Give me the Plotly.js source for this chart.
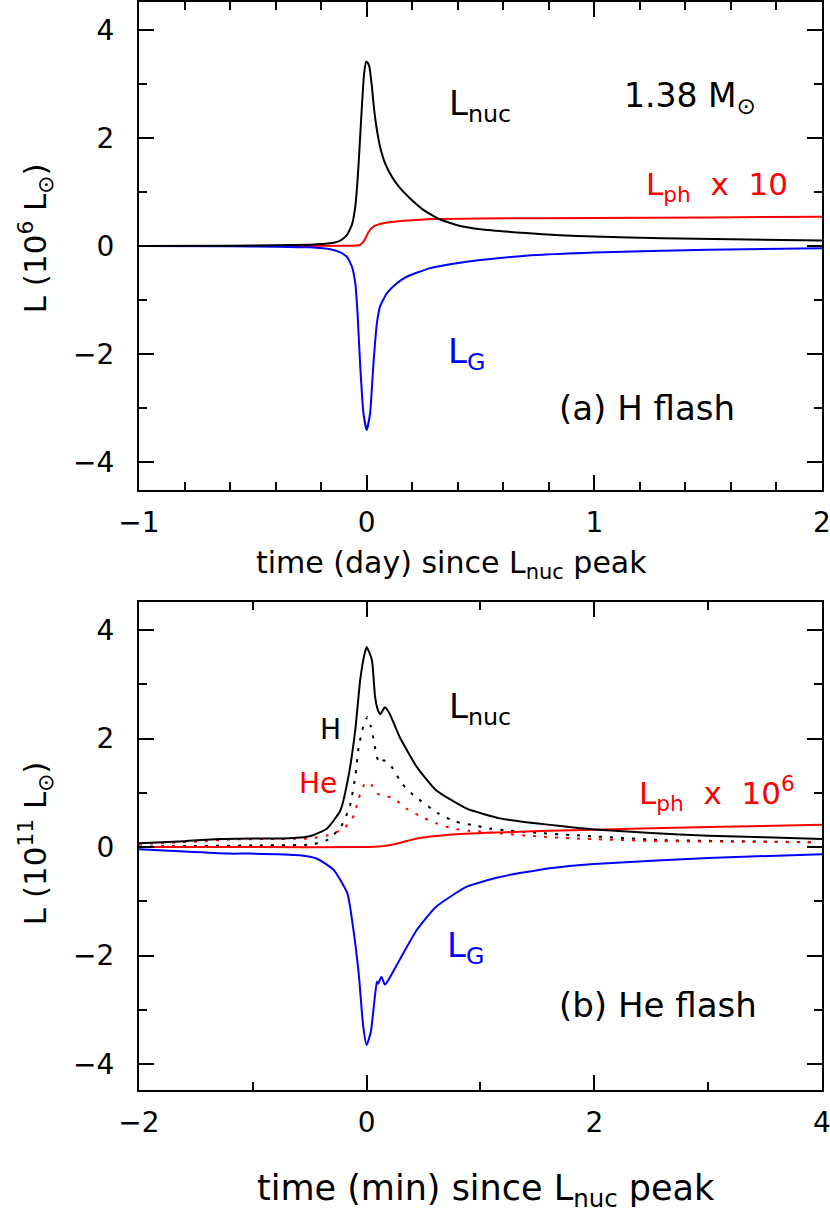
<!DOCTYPE html>
<html>
<head>
<meta charset="utf-8">
<script src="https://cdn.plot.ly/plotly-3.0.1.min.js"></script>
<style>html,body{margin:0;padding:0;background:#fff;}#plot{width:830px;height:1223px;}</style>
</head>
<body>
<div id="plot"></div>
<script>
// ---------- Panel (a): H flash, time in days ----------
const aNucT = [-1, -0.6, -0.4, -0.25, -0.16, -0.116, -0.087, -0.065, -0.05, -0.04, -0.031, -0.021, -0.011, -0.002, 0.004, 0.012, 0.023, 0.033, 0.045, 0.059, 0.081, 0.111, 0.147, 0.191, 0.249, 0.323, 0.411, 0.5, 0.7, 0.85, 1.0, 1.3, 1.6, 2.0];
const aNucL = [0, 0.005, 0.012, 0.025, 0.05, 0.10, 0.20, 0.39, 0.73, 1.22, 1.84, 2.58, 3.20, 3.41, 3.40, 3.32, 2.95, 2.52, 2.15, 1.84, 1.53, 1.28, 1.07, 0.88, 0.67, 0.49, 0.37, 0.31, 0.24, 0.2, 0.175, 0.145, 0.125, 0.10];
const aPhT = [-1, -0.5, -0.1, -0.045, -0.029, -0.014, -0.002, 0.008, 0.03, 0.074, 0.176, 0.308, 0.5, 1.0, 1.5, 2.0];
const aPhL = [0, 0, 0.003, 0.008, 0.02, 0.08, 0.17, 0.26, 0.36, 0.42, 0.47, 0.50, 0.51, 0.52, 0.53, 0.54];
const aGT = [-1, -0.6, -0.4, -0.25, -0.16, -0.12, -0.087, -0.065, -0.05, -0.04, -0.029, -0.014, 0, 0.015, 0.03, 0.045, 0.059, 0.088, 0.133, 0.176, 0.279, 0.396, 0.5, 0.7, 1.0, 1.5, 2.0];
const aGL = [0, -0.005, -0.012, -0.025, -0.06, -0.11, -0.20, -0.38, -0.69, -1.25, -2.17, -3.10, -3.41, -3.10, -2.17, -1.43, -1.12, -0.88, -0.69, -0.57, -0.41, -0.32, -0.26, -0.18, -0.12, -0.07, -0.04];

// ---------- Panel (b): He flash, time in minutes ----------
const bNucT = [-2, -1.6, -1.3, -1.0, -0.73, -0.5, -0.35, -0.23, -0.16, -0.10, -0.057, -0.02, 0.0, 0.046, 0.074, 0.10, 0.12, 0.16, 0.20, 0.29, 0.44, 0.61, 0.88, 1.17, 1.4, 1.61, 1.8, 2.0, 2.5, 3.0, 3.5, 4.0];
const bNucL = [0.07, 0.11, 0.15, 0.16, 0.16, 0.2, 0.34, 0.68, 1.30, 2.16, 3.08, 3.55, 3.69, 3.45, 2.77, 2.52, 2.45, 2.58, 2.47, 2.03, 1.48, 1.05, 0.71, 0.53, 0.46, 0.41, 0.365, 0.325, 0.26, 0.21, 0.18, 0.15];
const bHT = [-2, -1.5, -1.0, -0.48, -0.34, -0.23, -0.15, -0.10, -0.07, -0.03, 0.007, 0.037, 0.068, 0.09, 0.12, 0.15, 0.22, 0.31, 0.41, 0.63, 0.78, 0.92, 1.09, 1.22, 1.38, 1.52, 1.82, 2.58, 3.2, 3.92];
const bHL = [0.01, 0.02, 0.03, 0.05, 0.14, 0.36, 0.74, 1.3, 1.85, 2.22, 2.40, 2.22, 1.91, 1.66, 1.54, 1.60, 1.48, 1.17, 0.96, 0.62, 0.47, 0.41, 0.34, 0.31, 0.28, 0.26, 0.22, 0.13, 0.11, 0.09];
const bHeT = [-2, -1.5, -1.2, -0.8, -0.5, -0.34, -0.20, -0.11, -0.07, -0.01, 0.046, 0.09, 0.13, 0.235, 0.35, 0.48, 0.61, 0.76, 0.90, 1.19, 1.49, 1.82, 2.58, 3.2, 3.92];
const bHeL = [0.06, 0.1, 0.14, 0.15, 0.16, 0.22, 0.34, 0.59, 0.90, 1.19, 1.14, 0.99, 0.96, 0.90, 0.71, 0.56, 0.44, 0.34, 0.30, 0.25, 0.2, 0.16, 0.11, 0.1, 0.09];
const bPhT = [-2, -1, 0, 0.06, 0.15, 0.24, 0.44, 0.73, 1.17, 1.61, 2.0, 3.0, 4.0];
const bPhL = [0, 0, 0, 0.005, 0.02, 0.05, 0.16, 0.23, 0.27, 0.30, 0.32, 0.37, 0.41];
const bGT = [-2, -1.6, -1.2, -1.02, -0.59, -0.44, -0.29, -0.17, -0.12, -0.07, -0.03, 0.0, 0.037, 0.066, 0.09, 0.10, 0.13, 0.16, 0.20, 0.29, 0.44, 0.61, 0.88, 1.17, 1.61, 2.0, 3.0, 4.0];
const bGL = [-0.04, -0.08, -0.12, -0.12, -0.15, -0.21, -0.42, -0.85, -1.47, -2.33, -3.31, -3.65, -3.40, -2.88, -2.48, -2.52, -2.39, -2.54, -2.42, -2.08, -1.53, -1.10, -0.73, -0.55, -0.39, -0.31, -0.2, -0.13];

const FONT = "DejaVu Sans, Liberation Sans, sans-serif";
const BLACK = "#000000", RED = "#ff0000", BLUE = "#0000ff";
const SP = "\u00a0";

function line(x, y, color, xa, ya, dash) {
  return {x: x, y: y, xaxis: xa, yaxis: ya, type: "scatter", mode: "lines",
    line: {color: color, width: 2, dash: dash || "solid", shape: "spline", smoothing: 0.5},
    hoverinfo: "skip", showlegend: false};
}

const traces = [
  line(aPhT, aPhL, RED, "x", "y"),
  line(aGT, aGL, BLUE, "x", "y"),
  line(aNucT, aNucL, BLACK, "x", "y"),
  line(bHT, bHL, BLACK, "x2", "y2", "3px,8px"),
  line(bHeT, bHeL, RED, "x2", "y2", "3px,8px"),
  line(bPhT, bPhL, RED, "x2", "y2"),
  line(bGT, bGL, BLUE, "x2", "y2"),
  line(bNucT, bNucL, BLACK, "x2", "y2")
];

function xax(range, dtick, minorDtick, anchor) {
  return {range: range, dtick: dtick, tick0: 0, anchor: anchor,
    ticks: "inside", ticklen: 15, tickwidth: 2, tickcolor: BLACK,
    minor: {dtick: minorDtick, tick0: 0, ticks: "inside", ticklen: 8, tickwidth: 2, tickcolor: BLACK},
    mirror: "allticks", showline: true, linewidth: 2, linecolor: BLACK,
    showgrid: false, zeroline: false, tickfont: {family: FONT, size: 28, color: BLACK},
    ticklabelstandoff: 6, ticklabeloverflow: "allow", fixedrange: true};
}
function yax(range, domain, anchor) {
  return {range: range, domain: domain, dtick: 2, tick0: 0, anchor: anchor,
    ticks: "inside", ticklen: 15, tickwidth: 2, tickcolor: BLACK,
    minor: {dtick: 1, tick0: 0, ticks: "inside", ticklen: 8, tickwidth: 2, tickcolor: BLACK},
    mirror: "allticks", showline: true, linewidth: 2, linecolor: BLACK,
    showgrid: false, zeroline: false, tickfont: {family: FONT, size: 28, color: BLACK},
    ticklabelstandoff: 17, ticklabeloverflow: "allow", fixedrange: true};
}

function lab(text, x, y, xr, yr, color, size) {
  return {text: text, x: x, y: y, xref: xr, yref: yr, showarrow: false,
    font: {family: FONT, size: size, color: color}, xanchor: "center", yanchor: "middle"};
}

const annotations = [
  lab("1.38" + SP + "M<sub>⊙</sub>", 1.42, 2.75, "x", "y", BLACK, 33),
  lab("L<sub>nuc</sub>", 0.5, 2.6, "x", "y", BLACK, 34),
  lab("L<sub>ph</sub>" + SP + SP + "x" + SP + SP + "10", 1.54, 1.1, "x", "y", RED, 31),
  lab("L<sub>G</sub>", 0.44, -2.0, "x", "y", BLUE, 34),
  lab("(a)" + SP + "H" + SP + "flash", 1.23, -3.0, "x", "y", BLACK, 34),
  lab("L<sub>nuc</sub>", 1.0, 2.55, "x2", "y2", BLACK, 34),
  lab("H", -0.32, 2.16, "x2", "y2", BLACK, 28),
  lab("He", -0.43, 1.18, "x2", "y2", RED, 28),
  lab("L<sub>ph</sub>" + SP + SP + "x" + SP + SP + "10<sup>6</sup>", 3.08, 0.98, "x2", "y2", RED, 31),
  lab("L<sub>G</sub>", 0.87, -1.85, "x2", "y2", BLUE, 34),
  lab("(b)" + SP + "He" + SP + "flash", 2.56, -2.91, "x2", "y2", BLACK, 34),
  lab("time (day) since L<sub>nuc</sub> peak", 0.457, 0.483, "paper", "paper", BLACK, 30),
  lab("time (min) since L<sub>nuc</sub> peak", 0.508, -0.092, "paper", "paper", BLACK, 35),
  Object.assign(lab("L" + SP + "(10<sup>6</sup>" + SP + "L<sub>⊙</sub>)", -0.152, 0.783, "paper", "paper", BLACK, 31), {textangle: -90}),
  Object.assign(lab("L" + SP + "(10<sup>11</sup>" + SP + "L<sub>⊙</sub>)", -0.152, 0.227, "paper", "paper", BLACK, 31), {textangle: -90})
];

const layout = {
  width: 830, height: 1223,
  margin: {l: 139, r: 8, t: 2, b: 133, pad: 0},
  paper_bgcolor: "#ffffff", plot_bgcolor: "#ffffff",
  font: {family: FONT, color: BLACK},
  showlegend: false,
  xaxis: xax([-1, 2.0001], 1, 0.2, "y"),
  yaxis: yax([-4.52, 4.52], [0.5515, 1], "x"),
  xaxis2: xax([-2, 4.0002], 2, 1, "y2"),
  yaxis2: yax([-4.48, 4.52], [0, 0.4485], "x2"),
  annotations: annotations
};

Plotly.newPlot("plot", traces, layout, {displayModeBar: false, staticPlot: true});
</script>
</body>
</html>
